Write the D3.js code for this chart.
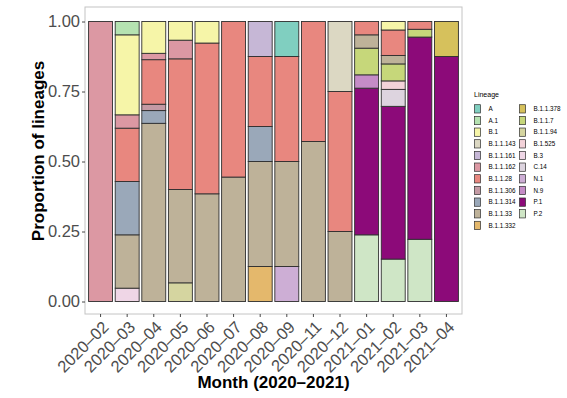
<!DOCTYPE html>
<html>
<head>
<meta charset="utf-8">
<script src="https://cdn.jsdelivr.net/npm/d3@7"></script>
<style>
  html, body { margin: 0; padding: 0; background: #ffffff; }
  svg { display: block; font-family: "Liberation Sans", Arial, Helvetica, sans-serif; }
</style>
</head>
<body>
<svg id="chart" width="567" height="398"></svg>
<script>
// ---- data ----
const months = ["2020–02","2020–03","2020–04","2020–05","2020–06","2020–07","2020–08",
                "2020–09","2020–11","2020–12","2021–01","2021–02","2021–03","2021–04"];
const lineages = ["A","A.1","B.1","B.1.1.143","B.1.1.161","B.1.1.162","B.1.1.28","B.1.1.306",
                  "B.1.1.314","B.1.1.33","B.1.1.332","B.1.1.378","B.1.1.7","B.1.1.94",
                  "B.1.525","B.3","C.14","N.1","N.9","P.1","P.2"];
const lineageColors = ["#80cfc0","#b5e2b1","#f6f5a8","#dcd8c3","#c6b7d6","#dc98a3","#e8877f","#c49aa4",
                       "#9aa8b9","#beb299","#e4b86c","#d6c15c","#c6d77a","#d5d5a0",
                       "#f3d2d9","#efd6e6","#ddd4df","#cdaed5","#c58cc7","#8c0a79","#cfe6c6"];
// sequence counts per lineage (rows follow `lineages`), columns follow `months`
const countsByLineage = [
  [0,0,0,0,0,0,0,1,0,0,0,0,0,0],   // A
  [0,1,0,0,0,0,0,0,0,0,0,0,0,0],   // A.1
  [0,6,5,1,1,0,0,0,0,0,0,1,0,0],   // B.1
  [0,0,0,0,0,0,0,0,0,1,0,0,0,0],   // B.1.1.143
  [0,0,0,0,0,0,1,0,0,0,0,0,0,0],   // B.1.1.161
  [1,1,1,1,0,0,0,0,0,0,0,0,0,0],   // B.1.1.162
  [0,4,7,7,7,5,2,3,3,2,1,3,1,0],   // B.1.1.28
  [0,0,1,0,0,0,0,0,0,0,0,0,0,0],   // B.1.1.306
  [0,4,2,0,0,0,1,0,0,0,0,0,0,0],   // B.1.1.314
  [0,4,28,5,5,4,3,3,4,1,1,1,0,0],  // B.1.1.33
  [0,0,0,0,0,0,1,0,0,0,0,0,0,0],   // B.1.1.332
  [0,0,0,0,0,0,0,0,0,0,0,0,0,1],   // B.1.1.378
  [0,0,0,0,0,0,0,0,0,0,2,2,1,0],   // B.1.1.7
  [0,0,0,1,0,0,0,0,0,0,0,0,0,0],   // B.1.1.94
  [0,0,0,0,0,0,0,0,0,0,0,1,0,0],   // B.1.525
  [0,1,0,0,0,0,0,0,0,0,0,0,0,0],   // B.3
  [0,0,0,0,0,0,0,0,0,0,0,2,0,0],   // C.14
  [0,0,0,0,0,0,0,1,0,0,0,0,0,0],   // N.1
  [0,0,0,0,0,0,0,0,0,0,1,0,0,0],   // N.9
  [0,0,0,0,0,0,0,0,0,0,11,18,26,7],// P.1
  [0,0,0,0,0,0,0,0,0,0,5,5,8,0]    // P.2
];
const yTicks = [0, 0.25, 0.5, 0.75, 1];
const yTickLabels = ["0.00","0.25","0.50","0.75","1.00"];

// ---- build table of proportions ----
const table = months.map((m, j) => {
  const total = d3.sum(countsByLineage, r => r[j]);
  const row = { month: m };
  lineages.forEach((l, i) => { row[l] = countsByLineage[i][j] / total; });
  return row;
});

const svg = d3.select("#chart");
const panel = { left: 85, right: 462, top: 7, bottom: 314 };

const x = d3.scaleBand().domain(months).range([panel.left, panel.right])
  .paddingInner(0.1).paddingOuter(0.135);
const y = d3.scaleLinear().domain([0, 1]).range([301.5, 21.5]);
const color = d3.scaleOrdinal().domain(lineages).range(lineageColors);

// panel background + border
svg.append("rect")
  .attr("x", panel.left).attr("y", panel.top)
  .attr("width", panel.right - panel.left).attr("height", panel.bottom - panel.top)
  .attr("fill", "#ffffff").attr("stroke", "#c4c4c4").attr("stroke-width", 1);

// stacked bars: first factor level on top, so stack from the last level upward
const stackKeys = lineages.slice().reverse();
const series = d3.stack().keys(stackKeys)(table);

const gBars = svg.append("g");
series.forEach(s => {
  gBars.selectAll(null)
    .data(s.filter(d => d[1] - d[0] > 1e-9))
    .join("rect")
    .attr("x", d => x(d.data.month))
    .attr("width", x.bandwidth())
    .attr("y", d => y(d[1]))
    .attr("height", d => y(d[0]) - y(d[1]))
    .attr("fill", color(s.key))
    .attr("stroke", "#2e2e2e")
    .attr("stroke-width", 0.9);
});

// y axis
const yAxis = d3.axisLeft(y).tickValues(yTicks)
  .tickFormat((d, i) => yTickLabels[i]).tickSize(3).tickPadding(2);
const gy = svg.append("g").attr("transform", `translate(${panel.left},0)`).call(yAxis);
gy.select(".domain").remove();
gy.selectAll(".tick line").attr("stroke", "#333333").attr("stroke-width", 0.9);
gy.selectAll(".tick text").attr("fill", "#4d4d4d").attr("font-size", 16.5)
  .attr("font-family", "Liberation Sans, Arial, sans-serif");

// x axis
const xAxis = d3.axisBottom(x).tickSize(3).tickPadding(2);
const gx = svg.append("g").attr("transform", `translate(0,${panel.bottom})`).call(xAxis);
gx.select(".domain").remove();
gx.selectAll(".tick line").attr("stroke", "#333333").attr("stroke-width", 0.9);
gx.selectAll(".tick text")
  .attr("fill", "#4d4d4d").attr("font-size", 16.5)
  .attr("font-family", "Liberation Sans, Arial, sans-serif")
  .attr("text-anchor", "end")
  .attr("y", 0).attr("dy", "0")
  .attr("transform", "translate(1,6) rotate(-45) translate(0,11.5)");

// axis titles
svg.append("text")
  .attr("x", (panel.left + panel.right) / 2).attr("y", 388)
  .attr("text-anchor", "middle").attr("font-weight", "bold").attr("font-size", 17)
  .attr("fill", "#000").text("Month (2020–2021)");
svg.append("text")
  .attr("transform", "translate(44,151) rotate(-90)")
  .attr("text-anchor", "middle").attr("font-weight", "bold").attr("font-size", 17)
  .attr("fill", "#000").text("Proportion of lineages");

// legend
const leg = svg.append("g");
leg.append("text").attr("x", 474).attr("y", 96.5).attr("font-size", 7)
  .attr("fill", "#000").text("Lineage");
const perCol = 11;
lineages.forEach((l, i) => {
  const col = Math.floor(i / perCol), row = i % perCol;
  const kx = col === 0 ? 474.5 : 519.5;
  const ky = 104.7 + row * 11.66;
  leg.append("rect").attr("x", kx).attr("y", ky).attr("width", 6).attr("height", 8.3)
    .attr("fill", color(l)).attr("stroke", "#2e2e2e").attr("stroke-width", 0.7);
  leg.append("text").attr("x", kx + 14).attr("y", ky + 4.15).attr("dy", "0.35em")
    .attr("font-size", 6.3).attr("fill", "#000").text(l);
});
</script>
</body>
</html>
